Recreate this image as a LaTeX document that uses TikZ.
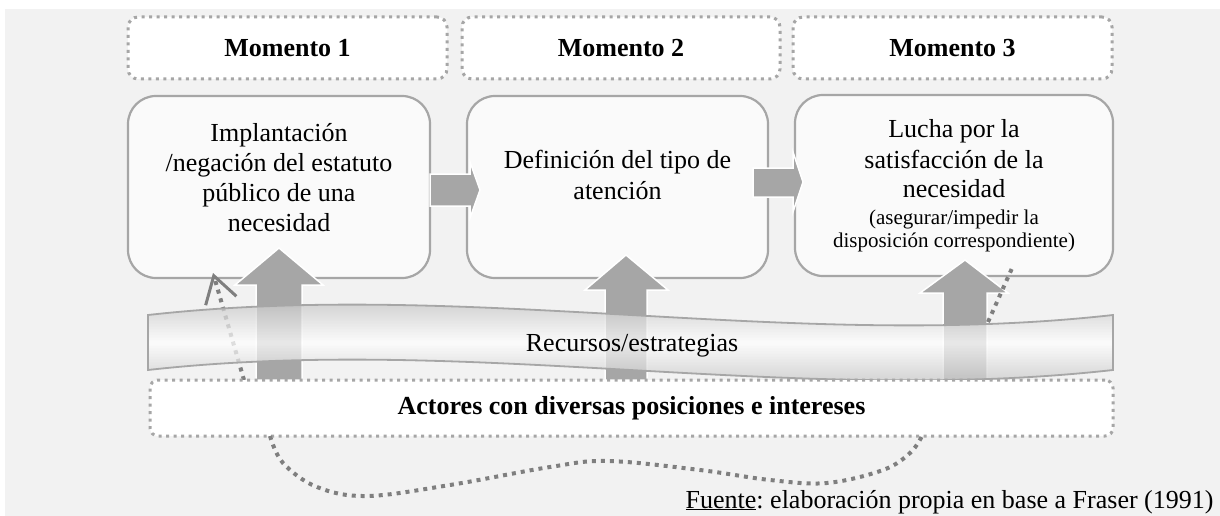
\documentclass[tikz,border=0pt]{standalone}
\usepackage{fontspec}
\setmainfont{Liberation Serif}
\usetikzlibrary{arrows.meta}
\frenchspacing
\definecolor{fondo}{HTML}{F2F2F2}
\definecolor{borde}{HTML}{A6A6A6}
\definecolor{caja}{HTML}{FAFAFA}
\definecolor{punto}{HTML}{7F7F7F}
\definecolor{banda}{HTML}{A8A8A8}
\newcommand{\taillen}{\fontsize{26}{31}\selectfont}
\newcommand{\taillep}{\fontsize{21}{23}\selectfont}

\begin{document}
\begin{tikzpicture}[x=1pt,y=-1pt,
  momento/.style={draw=borde,line width=3pt,dash pattern=on 3pt off 4.5pt,fill=white,rounded corners=10pt,inner sep=0pt,font=\taillen\bfseries},
  etapa/.style={draw=borde,line width=2.2pt,fill=caja,rounded corners=28pt,inner sep=0pt,align=center,font=\taillen},
  flecha/.style={fill=borde,draw=white,line width=1.5pt},
  punteado/.style={draw=punto,line width=4pt,dash pattern=on 4pt off 5pt}]
        \useasboundingbox (0,0) rectangle (1220,516);
        \fill[white] (0,0) rectangle (1220,516);
        \fill[fondo] (5,9) rectangle (1220,516);
        % momentos
        \node[momento,minimum width=319pt,minimum height=62pt] (m1) at (287.5,48) {Momento 1} ;
        \node[momento,minimum width=318pt,minimum height=62pt] (m2) at (621,48) {Momento 2} ;
        \node[momento,minimum width=319pt,minimum height=62pt] (m3) at (952.5,48) {Momento 3} ;
        % etapas
        \node[etapa,minimum width=302pt,minimum height=182pt,text depth=20pt] (e1) at (279,187) {Implantación\\[-1pt] /negación del estatuto\\[-1pt] público de una\\[-1pt] necesidad} ;
        \node[etapa,minimum width=301pt,minimum height=182pt,text depth=24pt] (e2) at (617.5,187) {Definición del tipo de\\ atención} ;
        \node[etapa,minimum width=318pt,minimum height=181pt] (e3) at (954,185.5) {Lucha por la\\ satisfacción de la\\[-2pt] necesidad\\[-4pt] {\taillep (asegurar/impedir la}\\[-8pt] {\taillep disposición correspondiente)}} ;
        \draw[flecha] (430,174) -- (470,174) -- (470,162) -- (480,190) -- (470,218) -- (470,206) -- (430,206) -- cycle;
        \draw[flecha] (753,168) -- (793,168) -- (793,152) -- (803,182) -- (793,212) -- (793,197) -- (753,197) -- cycle;
        % flechas hacia arriba
        \draw[flecha] (256,380) -- (256,285) -- (235,285) -- (279,248) -- (323,285) -- (302,285) -- (302,380) -- cycle;
        \draw[flecha] (605,380) -- (605,290) -- (585,290) -- (626,255) -- (668,290) -- (647,290) -- (647,380) -- cycle;
        \draw[flecha] (943,380) -- (943,293) -- (920,293) -- (965,260) -- (1008,293) -- (987,293) -- (987,380) -- cycle;
        \coordinate (d1) at (244,380);
        \coordinate (d2) at (213,273);
        \draw[punteado,-{Straight Barb[length=26pt,width=32pt,line width=3pt]}] (d1) -- (d2);
        \coordinate (d3) at (988,322);
        \coordinate (d4) at (1013,266);
        \draw[punteado] (d3) -- (d4);
        % recursos
        \shade[top color=banda,bottom color=banda,middle color=white,fill opacity=0.75]
          (148,315) .. controls (470,279) and (791,351) .. (1113,315) -- (1113,370) .. controls (791,406) and (470,334) .. (148,370) -- cycle;
        \draw[borde,line width=1.8pt]
          (148,315) .. controls (470,279) and (791,351) .. (1113,315) -- (1113,370) .. controls (791,406) and (470,334) .. (148,370) -- cycle;
        \node[font=\taillen] (recursos) at (632,346) {Recursos/estrategias} ;
        % actores
        \node[momento,minimum width=963pt,minimum height=56pt,rounded corners=8pt] (actores) at (631.5,408) {Actores con diversas posiciones e intereses} ;
        \coordinate (c1) at (270,436);
        \coordinate (c2) at (922,436);
        \draw[punteado] plot[smooth,tension=0.6] coordinates {(c1) (283,463) (317,487) (367,496) (450,485) (550,467) (608,461) (700,470) (770,480) (827,483) (883,470) (910,453) (c2)};
        \node[font=\taillen,anchor=base east] (fuente) at (1217,508) {\underline{Fuente}: elaboración propia en base a Fraser (1991)} ;
      \end{tikzpicture}
\end{document}
